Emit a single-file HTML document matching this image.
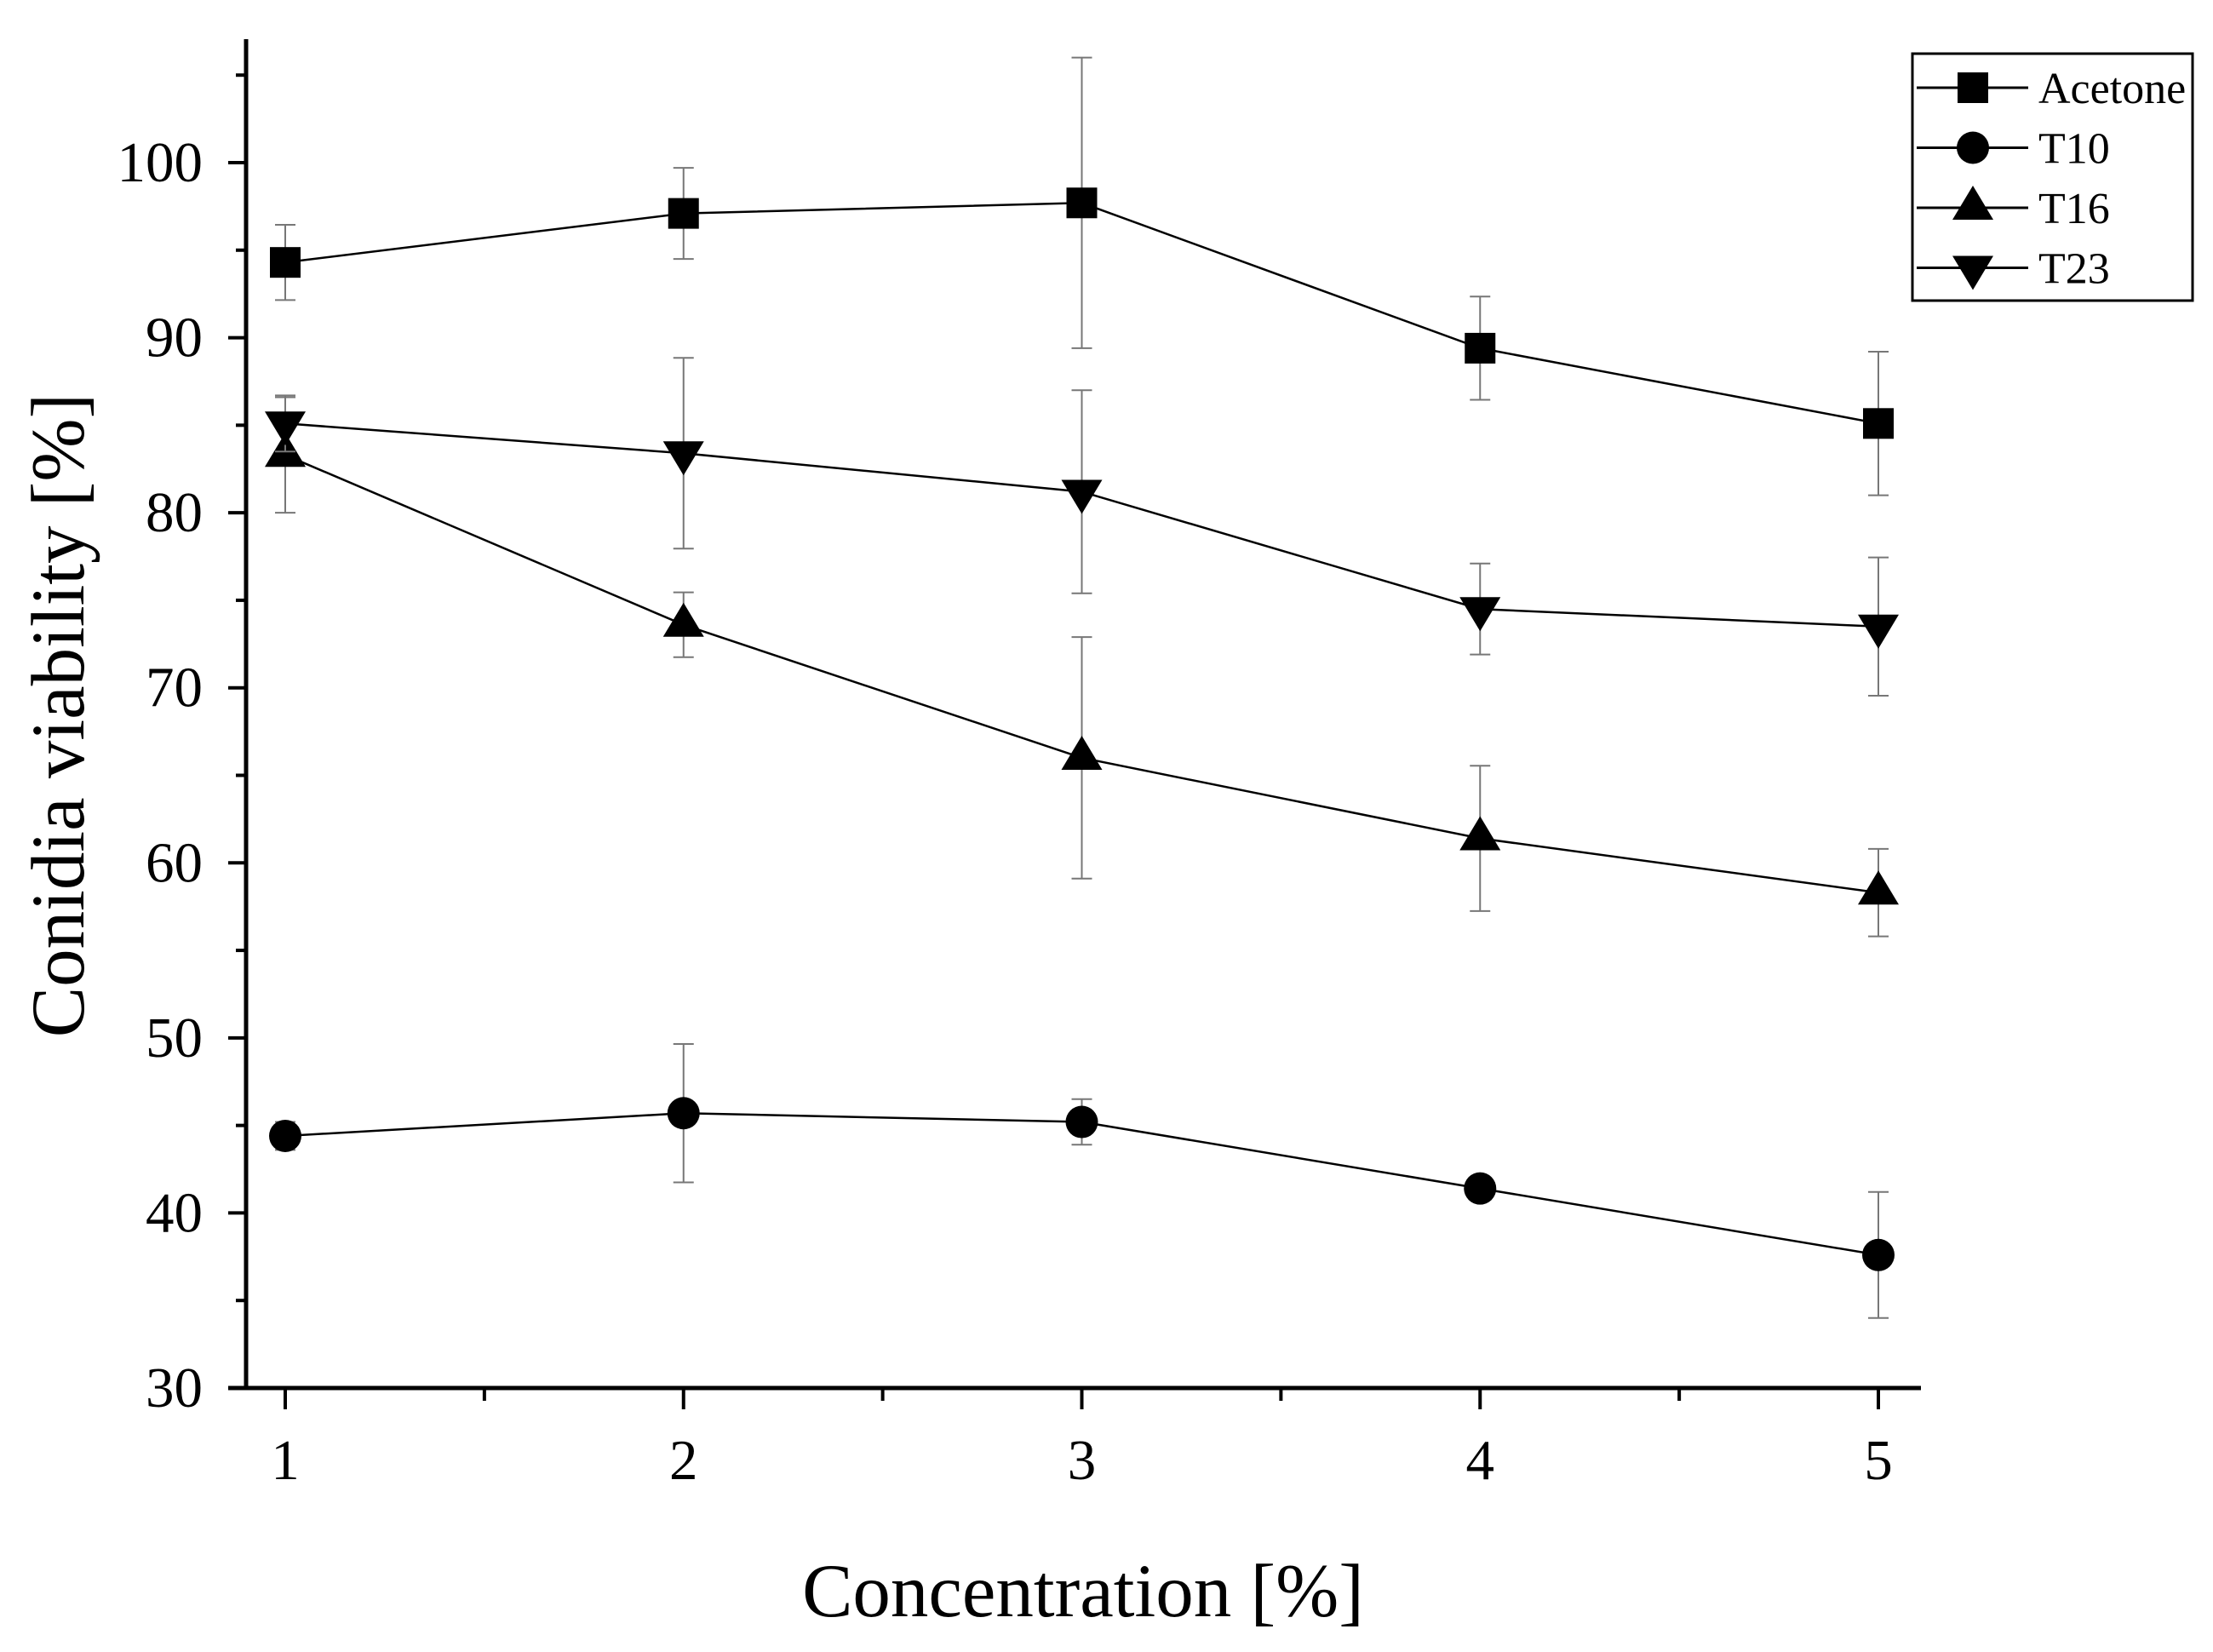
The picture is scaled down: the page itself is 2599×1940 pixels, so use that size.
<!DOCTYPE html>
<html><head><meta charset="utf-8"><style>
body{margin:0;background:#fff}
svg{display:block;font-family:"Liberation Serif",serif}
</style></head><body>
<svg id="chart" width="2599" height="1940" viewBox="0 0 2599 1940" xmlns="http://www.w3.org/2000/svg">
<g id="axes"></g>
<g id="series"></g>
<text x="1272" y="1898" font-size="89" text-anchor="middle">Concentration [%]</text>
<text transform="translate(98,840) rotate(-90)" font-size="89" text-anchor="middle">Conidia viability [%]</text>
<g>
<rect x="2246" y="63" width="329" height="290" fill="#fff" stroke="#000" stroke-width="3"/>
<g id="legend-items"></g>
</g>
</svg>
<script>
const categories=[1,2,3,4,5];
const seriesNames=["Acetone","T10","T16","T23"];
const acetone=[94.3,97.1,97.7,89.4,85.1];
const acetoneErr=[2.15,2.6,8.3,2.95,4.1];
const t10=[44.4,45.7,45.2,41.4,37.6];
const t10Err=[0.8,3.95,1.3,0.5,3.6];
const t16=[83.3,73.6,66.0,61.4,58.3];
const t16Err=[3.3,1.85,6.9,4.15,2.5];
const t23=[85.1,83.4,81.2,74.5,73.5];
const t23Err=[1.6,5.45,5.8,2.6,3.95];
const yTicks=[30,40,50,60,70,80,90,100];
const xTicks=[1,2,3,4,5];
const NS="http://www.w3.org/2000/svg";
const X=v=>335+(v-1)*(2206-335)/4;
const Y=v=>1630-(v-30)*(1630-191)/70;
function mk(tag,attrs,parent){const e=document.createElementNS(NS,tag);for(const k in attrs)e.setAttribute(k,attrs[k]);parent.appendChild(e);return e;}
const axes=document.getElementById('axes');
let l=mk('line',{x1:289,y1:46,x2:289,y2:1632,stroke:'#000','stroke-width':5},axes);


l=mk('line',{x1:268,y1:1630,x2:2256,y2:1630,stroke:'#000','stroke-width':5},axes);


for(let v=35;v<=105;v+=10){const t=mk('line',{x1:277,x2:289,y1:Y(v),y2:Y(v),stroke:'#000','stroke-width':4},axes);

}
yTicks.forEach(v=>{const t=mk('line',{x1:268,x2:289,y1:Y(v),y2:Y(v),stroke:'#000','stroke-width':4},axes);


const tx=mk('text',{x:238,y:Y(v)+22,'font-size':67,'text-anchor':'end'},axes);tx.textContent=v;

});
xTicks.forEach(v=>{const t=mk('line',{x1:X(v),x2:X(v),y1:1630,y2:1655,stroke:'#000','stroke-width':4},axes);


const tx=mk('text',{x:X(v),y:1737,'font-size':67,'text-anchor':'middle'},axes);tx.textContent=v;

});
for(let v=1.5;v<5;v+=1){const t=mk('line',{x1:X(v),x2:X(v),y1:1630,y2:1645,stroke:'#000','stroke-width':4},axes);

}
function marker(type,cx,cy,p){let e;
if(type===0)e=mk('rect',{x:cx-18,y:cy-18,width:36,height:36,fill:'#000'},p);
else if(type===1)e=mk('circle',{cx:cx,cy:cy,r:19,fill:'#000'},p);
else if(type===2)e=mk('polygon',{points:`${cx},${cy-26} ${cx-24},${cy+14} ${cx+24},${cy+14}`,fill:'#000'},p);
else e=mk('polygon',{points:`${cx},${cy+26} ${cx-24},${cy-14} ${cx+24},${cy-14}`,fill:'#000'},p);
return e;}
const data=[acetone,t10,t16,t23],errs=[acetoneErr,t10Err,t16Err,t23Err];
const sg=document.getElementById('series');
data.forEach((vals,si)=>{const g=mk('g',{},sg);


vals.forEach((v,i)=>{const x=X(categories[i]),e=errs[si][i];
const eb=mk('path',{d:`M${x},${Y(v-e)}V${Y(v+e)}M${x-12},${Y(v-e)}H${x+12}M${x-12},${Y(v+e)}H${x+12}`,stroke:'#777','stroke-width':2,fill:'none'},g);

});
const pl=mk('polyline',{points:vals.map((v,i)=>X(categories[i])+','+Y(v)).join(' '),fill:'none',stroke:'#000','stroke-width':2.5},g);


vals.forEach((v,i)=>{const m=marker(si,X(categories[i]),Y(v),g);

});});
const lg=document.getElementById('legend-items');
seriesNames.forEach((n,i)=>{const y=103+i*70.5;const g=mk('g',{},lg);


mk('line',{x1:2251,x2:2382,y1:y,y2:y,stroke:'#000','stroke-width':3},g);
marker(i,2317,y,g);
const t=mk('text',{x:2394,y:y+18,'font-size':52},g);t.textContent=n;});
</script>
</body></html>
